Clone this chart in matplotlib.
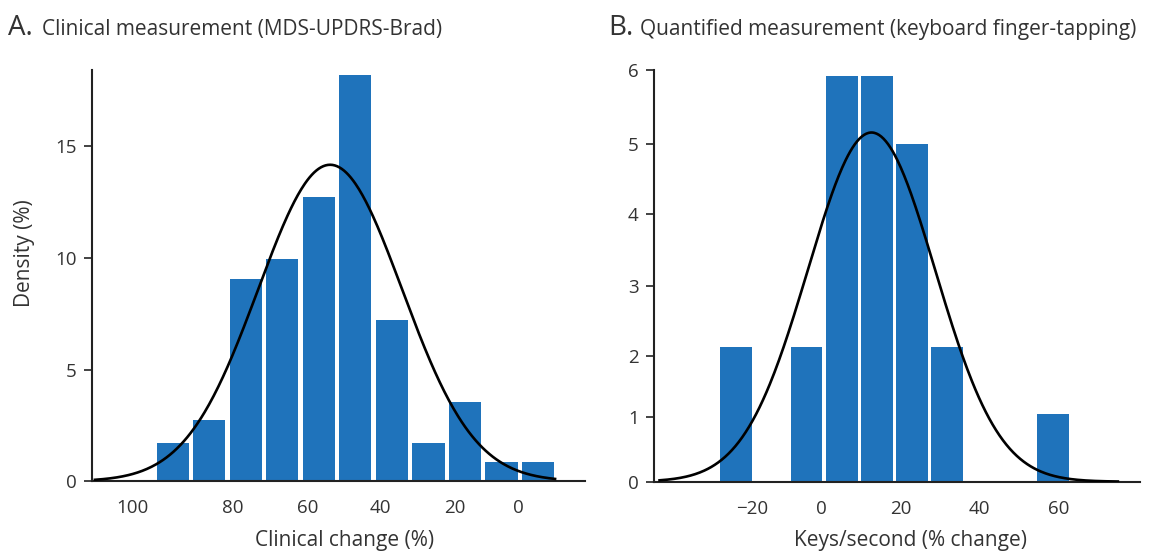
import numpy as np
import matplotlib
matplotlib.use('Agg')
import matplotlib.pyplot as plt

plt.rcParams['font.family'] = ['Open Sans', 'DejaVu Sans']

# panel A: clinical change (MDS-UPDRS-Brad), bins of 10 %
clin_edges = [100, 90, 80, 70, 60, 50, 40, 30, 20, 10, 0, -10]
clin_density = [1.73, 2.73, 9.03, 9.93, 12.7, 18.17, 7.2, 1.73, 3.55, 0.86, 0.86]
clin_fit_mean = 51.9
clin_fit_sd = 19.7
clin_fit_peak = 14.16
clin_fit_range = (116.3, -9.7)
clin_tick_pos = [105.9, 78.5, 58.0, 38.0, 17.7, 0.4]
clin_tick_labels = ['100', '80', '60', '40', '20', '0']
clin_yticks = [0, 5, 10, 15]

# panel B: keyboard finger-tapping, keys/second % change
keys_edges = [-26.1, -17.2, -8.3, 0.6, 9.5, 18.4, 27.3, 36.2, 45.1, 54.0, 62.9]
keys_count = [2, 0, 2, 6, 6, 5, 2, 0, 0, 1]
keys_fit_mean = 12.6
keys_fit_sd = 16.1
keys_fit_peak = 5.17
keys_fit_range = (-41.0, 74.9)
keys_tick_pos = [-17.7, 0, 20, 40, 60]
keys_tick_labels = ['\u221220', '0', '20', '40', '60']
keys_ytick_pos = [0, 0.962, 1.861, 2.902, 3.959, 5.0, 6.096]
keys_ytick_labels = ['0', '1', '2', '3', '4', '5', '6']

BAR = '#1f73bb'
TXT = '#333333'


def normal_curve(mean, sd, peak, lo, hi):
    xs = np.linspace(lo, hi, 400)
    return xs, peak * np.exp(-0.5 * ((xs - mean) / sd) ** 2)


def style_axes(ax):
    for s in ['top', 'right']:
        ax.spines[s].set_visible(False)
    for s in ['left', 'bottom']:
        ax.spines[s].set_linewidth(1.5)
        ax.spines[s].set_color('#222222')
    ax.tick_params(axis='y', length=6, width=1.2, pad=5, labelsize=13.5, labelcolor=TXT, color='#222222')
    ax.tick_params(axis='x', length=0, pad=13, labelsize=13.5, labelcolor=TXT)


def draw_hist(ax, edges, heights, frac):
    edges = np.array(edges, dtype=float)
    centers = (edges[:-1] + edges[1:]) / 2
    widths = np.abs(np.diff(edges)) * frac
    ax.bar(centers, heights, width=widths, color=BAR, linewidth=0, zorder=1)


fig = plt.figure(figsize=(11.5, 5.51), dpi=100)

# ---- panel A
ax1 = fig.add_axes([0.0797, 0.1265, 0.4290, 0.7465])
draw_hist(ax1, clin_edges, clin_density, 0.885)
xs, ys = normal_curve(clin_fit_mean, clin_fit_sd, clin_fit_peak, *clin_fit_range)
ax1.plot(xs, ys, color='black', lw=1.9, zorder=3)
ax1.set_xlim(117.2, -17.9)
ax1.set_ylim(0, 18.4)
ax1.set_xticks(clin_tick_pos)
ax1.set_xticklabels(clin_tick_labels)
ax1.set_yticks(clin_yticks)
style_axes(ax1)
ax1.set_ylabel('Density (%)', fontsize=15, color=TXT, va='center', ha='center')
ax1.yaxis.set_label_coords(-0.137, 0.555)
ax1.set_xlabel('Clinical change (%)', fontsize=15, color=TXT, va='center', ha='center')
ax1.xaxis.set_label_coords(0.513, -0.143)

# ---- panel B
ax2 = fig.add_axes([0.5687, 0.1258, 0.4226, 0.7472])
draw_hist(ax2, keys_edges, keys_count, 0.905)
xs, ys = normal_curve(keys_fit_mean, keys_fit_sd, keys_fit_peak, *keys_fit_range)
ax2.plot(xs, ys, color='black', lw=1.9, zorder=3)
ax2.set_xlim(-42.4, 80.5)
ax2.set_ylim(0, 6.096)
ax2.set_xticks(keys_tick_pos)
ax2.set_xticklabels(keys_tick_labels)
ax2.set_yticks(keys_ytick_pos)
ax2.set_yticklabels(keys_ytick_labels)
style_axes(ax2)
ax2.set_xlabel('Keys/second (% change)', fontsize=15, color=TXT, va='center', ha='center')
ax2.xaxis.set_label_coords(0.527, -0.142)

# ---- panel titles
fig.text(8 / 1150, 1 - 35 / 551, 'A.', fontsize=20, color=TXT, va='baseline')
fig.text(41.7 / 1150, 1 - 35 / 551, 'Clinical measurement (MDS-UPDRS-Brad)',
         fontsize=15, color=TXT, va='baseline')
fig.text(608.3 / 1150, 1 - 35 / 551, 'B.', fontsize=20, color=TXT, va='baseline')
fig.text(640 / 1150, 1 - 35 / 551, 'Quantified measurement (keyboard finger-tapping)',
         fontsize=15, color=TXT, va='baseline')

fig.savefig('out.png', dpi=100)
